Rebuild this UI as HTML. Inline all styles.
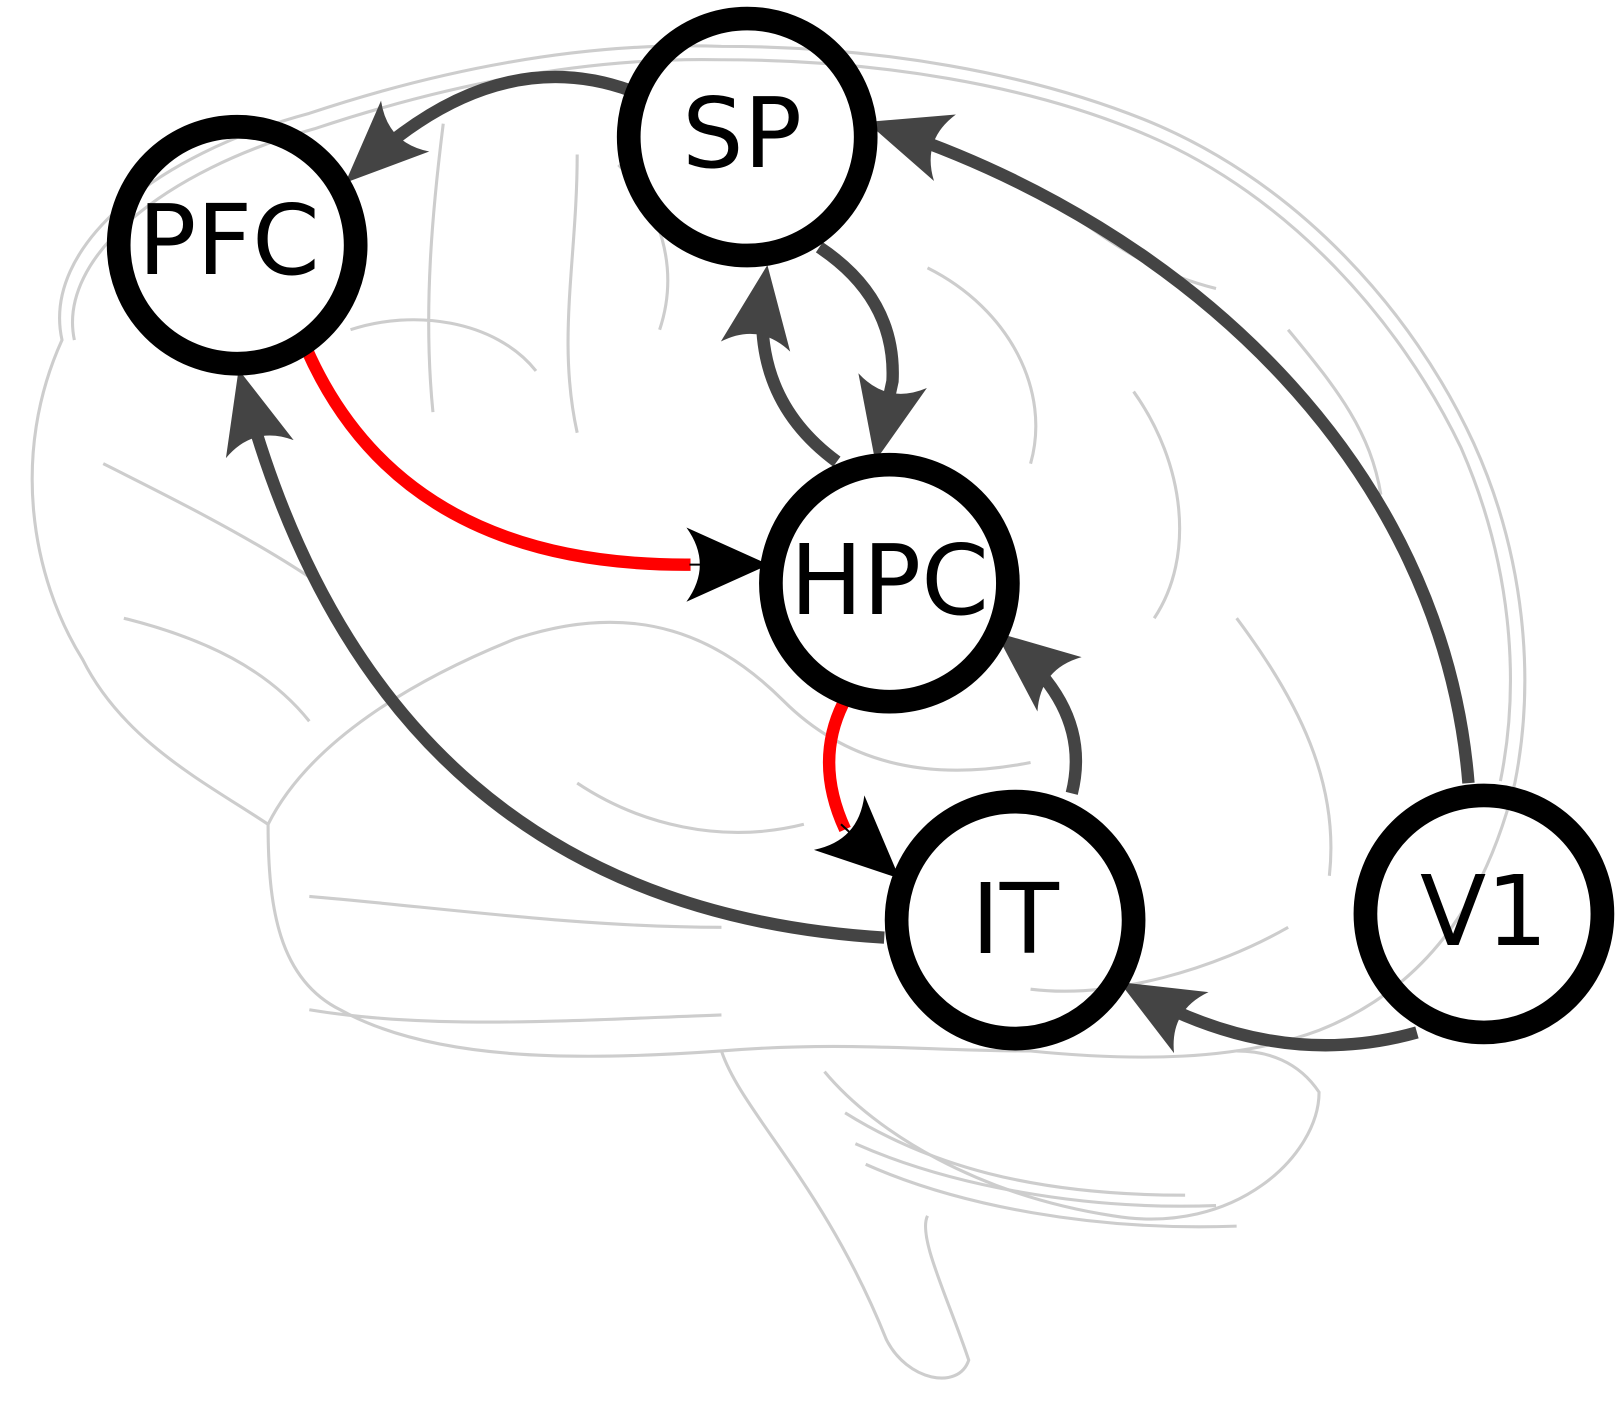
<!DOCTYPE html>
<html><head><meta charset="utf-8"><style>html,body{margin:0;padding:0;background:#fff}svg{display:block}</style></head>
<body>
<svg width="1616" height="1425" viewBox="0 0 1568 1383" xmlns="http://www.w3.org/2000/svg">
<defs>
<marker id="ag" markerUnits="userSpaceOnUse" markerWidth="10" markerHeight="10" refX="0" refY="0" orient="auto" overflow="visible">
<path d="M18,0 L-62,-34 Q-38,0 -62,34 Z" fill="#444"/></marker>
<marker id="ab" markerUnits="userSpaceOnUse" markerWidth="10" markerHeight="10" refX="0" refY="0" orient="auto" overflow="visible">
<path d="M4,0 L-76,-36 Q-50,0 -76,36 Z" fill="#000"/></marker>
</defs>
<!-- brain sketch -->
<g fill="none" stroke="#cdcdcd" stroke-width="3">
<path d="M60,330 C40,240 150,150 300,110 C420,70 560,40 700,45 C850,45 1000,70 1120,120 C1260,180 1370,300 1430,430 C1480,540 1490,660 1470,760 C1440,880 1380,960 1280,1000 C1200,1030 1100,1030 1000,1020 C900,1020 820,1010 700,1020 C560,1030 420,1030 330,980 C270,950 260,880 260,800 C200,760 120,720 80,640 C30,560 10,440 60,330 Z"/>
<path d="M72,330 C55,250 160,165 305,125 C425,85 560,55 700,58 C850,58 1000,82 1115,132 C1250,190 1358,310 1418,435 C1466,545 1476,660 1456,758"/>
<path d="M700,1020 C720,1080 800,1150 860,1300 C880,1340 930,1350 940,1320 C920,1260 890,1200 900,1180"/>
<path d="M800,1040 C850,1100 950,1160 1080,1180 C1200,1200 1280,1120 1280,1060 C1260,1030 1230,1020 1200,1020"/>
<path d="M820,1080 C900,1130 1000,1160 1150,1160 M830,1110 C920,1150 1050,1175 1180,1170 M840,1130 C930,1170 1060,1195 1200,1190"/>
<path d="M260,800 C300,720 400,660 500,620 C620,580 700,620 760,680 C820,740 900,760 1000,740"/>
<path d="M340,320 C400,300 480,310 520,360 M430,120 C420,200 410,300 420,400 M560,150 C560,250 540,330 560,420"/>
<path d="M900,260 C980,300 1020,380 1000,450 M1100,380 C1150,450 1160,540 1120,600 M1200,600 C1260,680 1300,760 1290,850"/>
<path d="M100,450 C160,480 240,520 300,560 M120,600 C200,620 260,650 300,700"/>
<path d="M300,870 C420,880 560,900 700,900 M560,760 C620,800 700,820 780,800"/>
<path d="M600,160 C640,200 660,260 640,320 M1000,180 C1060,220 1100,260 1180,280 M1250,320 C1300,380 1330,420 1340,480"/>
<path d="M300,980 C420,1000 560,990 700,985 M1000,960 C1080,970 1180,940 1250,900"/>
</g>
<!-- gray edges -->
<g fill="none" stroke="#444" stroke-width="12">
<path d="M612,88 Q480,40 348,165" marker-end="url(#ag)"/>
<path d="M1425,760 C1400,450 1150,220 858,124" marker-end="url(#ag)"/>
<path d="M795,240 Q870,290 866,370 L853,430" marker-end="url(#ag)"/>
<path d="M812,448 Q726,385 742,275" marker-end="url(#ag)"/>
<path d="M1375,1002 Q1240,1040 1102,962" marker-end="url(#ag)"/>
<path d="M858,910 Q370,880 236,376" marker-end="url(#ag)"/>
<path d="M1040,770 Q1060,690 980,625" marker-end="url(#ag)"/>
</g>
<!-- red edges -->
<g fill="none" stroke="#f00" stroke-width="12">
<path d="M297,338 Q390,550 670,548"/>
<path d="M818,683 Q790,740 820,805"/>
</g>
<path d="M669,548 L742,548" stroke="#000" stroke-width="2" fill="none" marker-end="url(#ab)"/>
<path d="M816,800 L870,850" stroke="#000" stroke-width="2" fill="none" marker-end="url(#ab)"/>
<!-- nodes -->
<g fill="none" stroke="#000" stroke-width="23">
<circle cx="230" cy="238" r="115"/>
<circle cx="725" cy="133" r="115"/>
<circle cx="863" cy="566" r="115"/>
<circle cx="985" cy="893" r="115"/>
<circle cx="1440" cy="887" r="115"/>
</g>
<g font-family="DejaVu Sans, Liberation Sans, sans-serif" font-size="94" fill="#000" text-anchor="middle">
<text x="222" y="266">PFC</text>
<text x="720" y="162">SP</text>
<text x="863" y="596">HPC</text>
<text x="985" y="925">IT</text>
<text x="1440" y="917">V1</text>
</g>
</svg>
</body></html>
